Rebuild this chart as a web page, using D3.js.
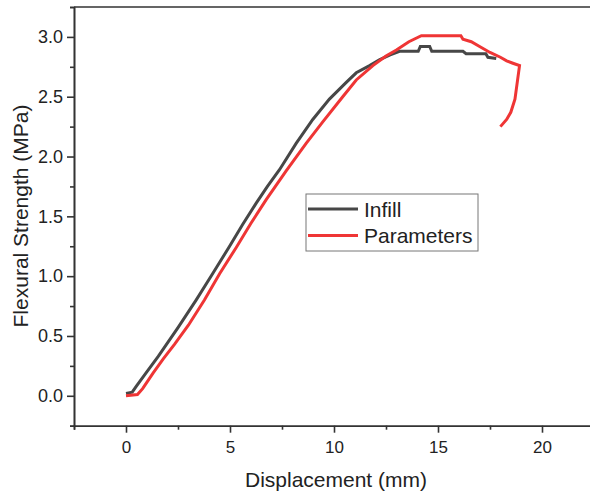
<!DOCTYPE html>
<html>
<head>
<meta charset="utf-8">
<style>
body { margin: 0; background: #fff; }
text { font-family: "Liberation Sans", Arial, sans-serif; fill: #222; }
</style>
</head>
<body>
<script src="https://cdn.jsdelivr.net/npm/d3@7"></script>
<script>
// values
const seriesNames = ['Infill', 'Parameters']
const seriesColors = ['#474747', '#ef3535']

const infillX = [0, 0.3, 0.5, 1.0, 1.55, 2.5, 3.37, 4.2, 4.98, 5.6, 6.26, 6.8, 7.38, 8.18, 8.98, 9.78, 10.59, 11.07, 11.71, 12.2, 12.7, 13.15, 14.05, 14.15, 14.6, 14.7, 16.2, 16.35, 17.3, 17.4, 17.8]
const infillY = [0.02, 0.03, 0.08, 0.20, 0.33, 0.57, 0.80, 1.03, 1.25, 1.43, 1.61, 1.75, 1.89, 2.11, 2.31, 2.48, 2.62, 2.70, 2.76, 2.81, 2.85, 2.88, 2.88, 2.92, 2.92, 2.88, 2.88, 2.86, 2.86, 2.83, 2.82]

const paramX = [0, 0.55, 0.8, 1.3, 1.8, 2.33, 3.0, 3.77, 4.5, 5.3, 6.0, 6.74, 7.7, 8.66, 9.46, 10.42, 11.07, 11.87, 12.5, 13.0, 13.6, 14.2, 16.1, 16.2, 16.6, 17.0, 17.5, 18.0, 18.3, 18.6, 18.92, 18.7, 18.5, 18.3, 18.0]
const paramY = [0.00, 0.01, 0.06, 0.19, 0.31, 0.43, 0.59, 0.80, 1.02, 1.24, 1.44, 1.64, 1.88, 2.11, 2.29, 2.50, 2.64, 2.76, 2.84, 2.89, 2.96, 3.01, 3.01, 2.98, 2.96, 2.92, 2.87, 2.83, 2.80, 2.78, 2.76, 2.48, 2.37, 2.31, 2.25]

const xMajor = [0, 5, 10, 15, 20]
const xMinor = [-2.5, 2.5, 7.5, 12.5, 17.5, 22.5]
const yMajor = [0, 0.5, 1.0, 1.5, 2.0, 2.5, 3.0]
const yMinor = [-0.25, 0.25, 0.75, 1.25, 1.75, 2.25, 2.75, 3.25]

const width = 590
const height = 493

const svg = d3.select('body').append('svg')
    .attr('width', width)
    .attr('height', height)

const x = d3.scaleLinear().domain([-2.5, 22.5]).range([74, 594])
const y = d3.scaleLinear().domain([-0.25, 3.25]).range([425.7, 7])

const axisColor = '#333'

// frame (top + right)
svg.append('path')
    .attr('d', `M${x(-2.5)},${y(3.25)}H${x(22.5)}V${y(-0.25)}`)
    .attr('fill', 'none')
    .attr('stroke', axisColor)
    .attr('stroke-width', 1.6)

// x axis
const gx = svg.append('g').attr('transform', `translate(0,${y(-0.25)})`)
gx.append('g')
    .call(d3.axisBottom(x).tickValues(xMinor).tickSize(4).tickFormat(''))
gx.append('g')
    .call(d3.axisBottom(x).tickValues(xMajor).tickSize(7).tickSizeOuter(0).tickPadding(8).tickFormat(d3.format('d')))
gx.selectAll('text').attr('font-size', 17)

// y axis
const gy = svg.append('g').attr('transform', `translate(${x(-2.5)},0)`)
gy.append('g')
    .call(d3.axisLeft(y).tickValues(yMinor).tickSize(4).tickFormat(''))
gy.append('g')
    .call(d3.axisLeft(y).tickValues(yMajor).tickSize(7).tickSizeOuter(0).tickPadding(4).tickFormat(d3.format('.1f')))
gy.selectAll('text').attr('font-size', 18)

svg.selectAll('.domain, .tick line')
    .attr('stroke', axisColor)
    .attr('stroke-width', 1.6)
svg.selectAll('.tick text').attr('fill', '#222').attr('font-family', '"Liberation Sans", Arial, sans-serif')

// axis titles
svg.append('text')
    .attr('x', 336)
    .attr('y', 487)
    .attr('text-anchor', 'middle')
    .attr('font-size', 21)
    .text('Displacement (mm)')

svg.append('text')
    .attr('transform', 'translate(28,216) rotate(-90)')
    .attr('text-anchor', 'middle')
    .attr('font-size', 21)
    .text('Flexural Strength (MPa)')

// curves
const series = [
    d3.zip(infillX, infillY),
    d3.zip(paramX, paramY)
]

const line = d3.line()
    .x(d => x(d[0]))
    .y(d => y(d[1]))

svg.selectAll('path.curve')
    .data(series)
    .join('path')
    .attr('class', 'curve')
    .attr('d', line)
    .attr('fill', 'none')
    .attr('stroke', (d, i) => seriesColors[i])
    .attr('stroke-width', 3)
    .attr('stroke-linejoin', 'miter')

// legend
const legend = svg.append('g').attr('transform', 'translate(306,194)')
legend.append('rect')
    .attr('width', 172)
    .attr('height', 57)
    .attr('fill', '#fff')
    .attr('stroke', '#777')
    .attr('stroke-width', 1)

seriesNames.forEach((name, i) => {
    const row = legend.append('g').attr('transform', `translate(0,${15 + i * 26.5})`)
    row.append('line')
        .attr('x1', 2).attr('x2', 52)
        .attr('stroke', seriesColors[i])
        .attr('stroke-width', 3)
    row.append('text')
        .attr('x', 58)
        .attr('y', 7.5)
        .attr('font-size', 21)
        .text(name)
})
</script>
</body>
</html>
